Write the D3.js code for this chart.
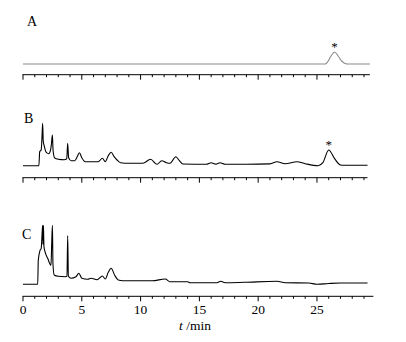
<!DOCTYPE html>
<html><head><meta charset="utf-8">
<script src="https://cdn.jsdelivr.net/npm/d3@7"></script>
<style>body{margin:0;background:#fff}svg{display:block}text{font-family:"Liberation Serif","Times New Roman",serif;fill:#000}</style>
</head><body>
<svg id="c" width="406" height="342"></svg>
<script>
// retention time (min) and detector signal (arbitrary units) for each trace
const traceA_t = [0,25.7,25.9,26.2,26.5,26.8,27.1,27.4,27.6,29.5];
const traceA_v = [0,0,2,8,12,8,3,0.5,0,0];

const traceB_t = [0,1.35,1.42,1.55,1.62,1.67,1.72,1.8,2.0,2.2,2.35,2.42,2.5,2.56,2.7,3.0,3.5,3.72,3.8,3.88,4.1,4.4,4.65,4.8,5.0,5.3,5.8,6.4,6.75,7.0,7.25,7.5,7.75,8.0,8.3,9.0,10.2,10.85,11.4,11.8,12.2,12.5,13.0,13.3,13.6,15.6,16.0,16.4,16.75,17.2,19,21.0,21.6,22.3,23.3,24.0,25.1,25.5,26.0,26.5,27.0,27.3,29.3];
const traceB_v = [0,0,14,16,30,42.4,25,20,13,12,16,22,30.7,15,7.7,6.5,6,7,22.4,8,5,5,10,13,8,4,4,4,7.4,4,10,13.4,9,5.7,3,2.4,2.4,6.4,1.4,5,3,2.4,9,5,1.7,1.4,3,1.6,3,1.4,1.4,1.8,4,2,4,2,0,3,15.7,7,0.7,0.5,0.5];

const traceC_t = [0,1.25,1.3,1.45,1.55,1.62,1.67,1.7,1.74,1.78,1.87,2.1,2.38,2.44,2.5,2.55,2.65,3.0,3.6,3.74,3.8,3.86,4.1,4.5,4.75,5.0,5.5,5.8,6.3,6.75,7.0,7.25,7.5,7.8,8.1,8.5,10,11,12.1,12.5,14,14.2,16.5,16.8,17.2,18.8,21.6,22.3,24.3,25,26,27,29.3];
const traceC_v = [0,0,24,34,36,50,59,40,59,38,32.6,26,19,40,59,20,9.3,8,7.6,8,48.6,8,6,7.5,11,6,5,6,4.5,8.3,5.3,12,16,9,4.3,3.6,3.6,3.6,5.3,2.6,2.6,1.6,1.6,3,1.6,2,3,1.6,1.3,0,0.8,1.3,1.3];

const panelLabels = ["A","B","C"];
const xTicksMajor = [0,5,10,15,20,25];
const xTicksMinor = d3.range(0,30,1);
const starA = 26.5, starB = 26.0;

const svg = d3.select("#c");
const x = d3.scaleLinear().domain([0,29.8]).range([23,373.4]);

const panels = [
  {label:panelLabels[0], t:traceA_t, v:traceA_v, base:64, axisY:74.7, axisEnd:29.5, color:"#8a8a8a", lx:27, ly:26, star:starA, starY:13},
  {label:panelLabels[1], t:traceB_t, v:traceB_v, base:165.7, axisY:177.7, axisEnd:29.3, color:"#000", lx:24, ly:123, star:starB, starY:17},
  {label:panelLabels[2], t:traceC_t, v:traceC_v, base:284.3, axisY:296.3, axisEnd:29.8, color:"#000", lx:22, ly:239, star:null}
];

panels.forEach((p,i)=>{
  const y = d3.scaleLinear().domain([0,60]).range([p.base, p.base-60]);
  const data = p.t.map((t,j)=>[t,p.v[j]]);
  const line = d3.line().x(d=>x(d[0])).y(d=>y(d[1])).curve(d3.curveMonotoneX);
  svg.append("path").attr("d",line(data)).attr("fill","none")
    .attr("stroke",p.color).attr("stroke-width",1.1).attr("stroke-linejoin","round");

  const g = svg.append("g");
  g.append("line").attr("x1",x(0)-0.5).attr("x2",x(p.axisEnd)).attr("y1",p.axisY).attr("y2",p.axisY)
    .attr("stroke","#000").attr("stroke-width",1);
  g.selectAll(".mn").data(xTicksMinor.filter(d=>d<=p.axisEnd && d%5!==0)).enter().append("line")
    .attr("x1",d=>x(d)).attr("x2",d=>x(d)).attr("y1",p.axisY).attr("y2",p.axisY+2.5)
    .attr("stroke","#000").attr("stroke-width",1);
  g.selectAll(".mj").data(xTicksMajor).enter().append("line")
    .attr("x1",d=>x(d)).attr("x2",d=>x(d)).attr("y1",p.axisY).attr("y2",p.axisY+5)
    .attr("stroke","#000").attr("stroke-width",1);

  svg.append("text").attr("x",p.lx).attr("y",p.ly).attr("font-size",14).text(p.label);
  if(p.star!==null){
    svg.append("text").attr("x",x(p.star)).attr("y",y(p.starY)).attr("text-anchor","middle")
      .attr("font-size",13).attr("fill","#000").text("*");
  }
  if(p.label==="C"){
    svg.selectAll(".tl").data(xTicksMajor).enter().append("text")
      .attr("x",d=>x(d)).attr("y",314).attr("text-anchor","middle").attr("font-size",13.5)
      .text(d=>d);
    const tt = svg.append("text").attr("x",195).attr("y",330).attr("text-anchor","middle").attr("font-size",13.5);
    tt.append("tspan").attr("font-style","italic").text("t");
    tt.append("tspan").text(" /min");
  }
});
</script>
</body></html>
